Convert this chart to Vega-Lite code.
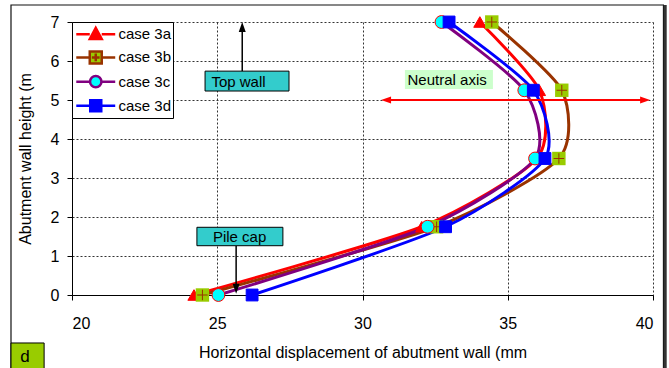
{
  "$schema": "https://vega.github.io/schema/vega-lite/v6.json",
  "width": 581,
  "height": 273,
  "autosize": {"type": "none"},
  "padding": {"left": 72, "top": 22, "right": 16, "bottom": 73},
  "background": "white",
  "config": {
    "font": "Liberation Sans",
    "view": {"stroke": null},
    "axis": {
      "labelFont": "Liberation Sans",
      "titleFont": "Liberation Sans",
      "labelColor": "black",
      "titleColor": "black",
      "labelFontSize": 16,
      "titleFontSize": 16,
      "titleFontWeight": "normal",
      "domainColor": "black",
      "domainWidth": 1,
      "tickColor": "black",
      "tickSize": 5,
      "gridColor": "#333333",
      "gridDash": [2, 2],
      "gridOpacity": 1,
      "gridWidth": 1,
      "labelOverlap": false
    },
    "legend": {
      "labelFont": "Liberation Sans",
      "labelFontSize": 15,
      "labelColor": "black"
    }
  },
  "datasets": {
    "disp": [
      {"series": "case 3a", "x": 24.2, "y": 0},
      {"series": "case 3a", "x": 32.04, "y": 1.75},
      {"series": "case 3a", "x": 36.0, "y": 3.5},
      {"series": "case 3a", "x": 36.09, "y": 5.25},
      {"series": "case 3a", "x": 34.04, "y": 7},
      {"series": "case 3b", "x": 24.49, "y": 0},
      {"series": "case 3b", "x": 32.55, "y": 1.75},
      {"series": "case 3b", "x": 36.76, "y": 3.5},
      {"series": "case 3b", "x": 36.86, "y": 5.25},
      {"series": "case 3b", "x": 34.45, "y": 7},
      {"series": "case 3c", "x": 25.04, "y": 0},
      {"series": "case 3c", "x": 32.24, "y": 1.75},
      {"series": "case 3c", "x": 35.94, "y": 3.5},
      {"series": "case 3c", "x": 35.57, "y": 5.25},
      {"series": "case 3c", "x": 32.72, "y": 7},
      {"series": "case 3d", "x": 26.2, "y": 0},
      {"series": "case 3d", "x": 32.86, "y": 1.75},
      {"series": "case 3d", "x": 36.28, "y": 3.5},
      {"series": "case 3d", "x": 35.88, "y": 5.25},
      {"series": "case 3d", "x": 32.98, "y": 7}
    ]
  },
  "encoding": {
    "x": {
      "field": "x",
      "type": "quantitative",
      "scale": {"domain": [20, 40], "nice": false, "zero": false},
      "axis": {
        "title": "Horizontal displacement of abutment wall (mm",
        "values": [20, 25, 30, 35, 40],
        "grid": true,
        "labelPadding": 15,
        "titlePadding": 13
      }
    },
    "y": {
      "field": "y",
      "type": "quantitative",
      "scale": {"domain": [0, 7], "nice": false, "zero": false},
      "axis": {
        "title": "Abutment wall height (m",
        "values": [0, 1, 2, 3, 4, 5, 6, 7],
        "grid": true,
        "labelPadding": 8,
        "titlePadding": 17
      }
    }
  },
  "layer": [
    {
      "data": {"values": [{"x": 17.9, "x2": 40.36, "y": 7.436, "y2": -2.2}]},
      "mark": {"type": "rect", "fill": "white", "fillOpacity": 0, "stroke": "#111111", "strokeWidth": 1.2},
      "encoding": {"x2": {"field": "x2"}, "y2": {"field": "y2"}}
    },
    {
      "data": {"values": [{"x": 40.42, "y": 7.436, "y2": -2.2}]},
      "mark": {"type": "rule", "stroke": "#333333", "strokeWidth": 3},
      "encoding": {"y2": {"field": "y2"}}
    },
    {
      "data": {"name": "disp"},
      "mark": {"type": "line", "interpolate": "cardinal", "tension": 0.3, "strokeWidth": 3},
      "encoding": {
        "order": {"field": "y", "type": "quantitative"},
        "color": {
          "field": "series",
          "type": "nominal",
          "scale": {
            "domain": ["case 3a", "case 3b", "case 3c", "case 3d"],
            "range": ["#FF0000", "#993300", "#800080", "#0000FF"]
          },
          "legend": {
            "title": null,
            "orient": "top-left",
            "offset": 0,
            "padding": 1.25,
            "rowPadding": 2.2,
            "strokeColor": "black",
            "fillColor": "white",
            "cornerRadius": 0,
            "labelFont": "Liberation Sans",
            "labelFontSize": 15,
            "labelColor": "black",
            "labelOffset": 23.25,
            "symbolSize": 361,
            "symbolStrokeWidth": 2.5,
            "encode": {
              "labels": {
                "update": {
                  "fontSize": {"value": 15},
                  "fill": {"value": "black"}
                }
              },
              "symbols": {
                "update": {
                  "shape": {"signal": "datum.value === 'case 3a' ? 'M-0.84,0H0.58M1.84,0H3.26M0.58,0.5L1.21,-0.68L1.84,0.5Z' : datum.value === 'case 3b' ? 'M-0.84,0H0.58M1.84,0H3.26M0.58,-0.63H1.84V0.63H0.58ZM0.8,0H1.62M1.21,-0.41V0.41' : datum.value === 'case 3c' ? 'M-0.84,0H0.61M1.81,0H3.26M1.81,0A0.6,0.6 0 1 1 0.61,0A0.6,0.6 0 1 1 1.81,0Z' : 'M-0.84,0H0.63M1.79,0H3.26M0.63,-0.58H1.79V0.58H0.63Z'"},
                  "fill": {"signal": "datum.value === 'case 3a' ? '#FF0000' : datum.value === 'case 3b' ? '#99CC00' : datum.value === 'case 3c' ? '#00FFFF' : '#0000FF'"},
                  "fillOpacity": {"value": 1},
                  "strokeWidth": {"value": 2.5},
                  "opacity": {"value": 1}
                }
              }
            }
          }
        }
      }
    },
    {
      "data": {"name": "disp"},
      "transform": [{"filter": "datum.series === 'case 3a'"}],
      "mark": {"type": "point", "shape": "triangle-up", "filled": true, "fill": "#FF0000", "stroke": "#FF0000", "strokeWidth": 1, "size": 150, "opacity": 1}
    },
    {
      "data": {"name": "disp"},
      "transform": [{"filter": "datum.series === 'case 3b'"}],
      "mark": {"type": "point", "shape": "square", "filled": true, "fill": "#99CC00", "strokeWidth": 0, "size": 180, "opacity": 1}
    },
    {
      "data": {"name": "disp"},
      "transform": [{"filter": "datum.series === 'case 3b'"}],
      "mark": {"type": "point", "shape": "M-1,0H1M0,-1V1", "filled": false, "stroke": "#993300", "strokeWidth": 1, "size": 110, "opacity": 1}
    },
    {
      "data": {"name": "disp"},
      "transform": [{"filter": "datum.series === 'case 3c'"}],
      "mark": {"type": "point", "shape": "circle", "filled": true, "fill": "#00FFFF", "stroke": "#FF0000", "strokeWidth": 1, "size": 165, "opacity": 1}
    },
    {
      "data": {"name": "disp"},
      "transform": [{"filter": "datum.series === 'case 3d'"}],
      "mark": {"type": "point", "shape": "square", "filled": true, "fill": "#0000FF", "stroke": "#0000FF", "strokeWidth": 1, "size": 140, "opacity": 1}
    },
    {
      "data": {"values": [{"x": 31.46, "x2": 34.49, "y": 5.77, "y2": 5.28}]},
      "mark": {"type": "rect", "fill": "#CCFFCC"},
      "encoding": {"x2": {"field": "x2"}, "y2": {"field": "y2"}}
    },
    {
      "data": {"values": [{"x": 31.55, "y": 5.525, "label": "Neutral axis"}]},
      "mark": {"type": "text", "align": "left", "baseline": "middle", "fontSize": 15, "font": "Liberation Sans", "color": "black"},
      "encoding": {"text": {"field": "label"}}
    },
    {
      "data": {"values": [{"x": 30.9, "x2": 39.65, "y": 5.0}]},
      "mark": {"type": "rule", "stroke": "#FF0000", "strokeWidth": 2},
      "encoding": {"x2": {"field": "x2"}}
    },
    {
      "data": {"values": [{"x": 30.64, "y": 5.0}]},
      "mark": {"type": "point", "shape": "M0,0L2,-0.7L2,0.7Z", "filled": true, "fill": "#FF0000", "strokeWidth": 0, "size": 100, "opacity": 1}
    },
    {
      "data": {"values": [{"x": 39.9, "y": 5.0}]},
      "mark": {"type": "point", "shape": "M0,0L-2,-0.7L-2,0.7Z", "filled": true, "fill": "#FF0000", "strokeWidth": 0, "size": 100, "opacity": 1}
    },
    {
      "data": {"values": [{"x": 25.86, "y": 5.74, "y2": 6.78}]},
      "mark": {"type": "rule", "stroke": "black", "strokeWidth": 1.5},
      "encoding": {"y2": {"field": "y2"}}
    },
    {
      "data": {"values": [{"x": 25.86, "y": 7.0}]},
      "mark": {"type": "point", "shape": "M0,0L-0.7,2L0.7,2Z", "filled": true, "fill": "black", "strokeWidth": 0, "size": 100, "opacity": 1}
    },
    {
      "data": {"values": [{"x": 24.58, "x2": 27.47, "y": 5.74, "y2": 5.23}]},
      "mark": {"type": "rect", "fill": "#33CCCC", "stroke": "black", "strokeWidth": 1},
      "encoding": {"x2": {"field": "x2"}, "y2": {"field": "y2"}}
    },
    {
      "data": {"values": [{"x": 24.8, "y": 5.47, "label": "Top wall"}]},
      "mark": {"type": "text", "align": "left", "baseline": "middle", "fontSize": 15, "font": "Liberation Sans", "color": "black"},
      "encoding": {"text": {"field": "label"}}
    },
    {
      "data": {"values": [{"x": 25.65, "y": 1.264, "y2": 0.25}]},
      "mark": {"type": "rule", "stroke": "black", "strokeWidth": 1.5},
      "encoding": {"y2": {"field": "y2"}}
    },
    {
      "data": {"values": [{"x": 25.65, "y": 0.03}]},
      "mark": {"type": "point", "shape": "M0,0L-0.7,-2L0.7,-2Z", "filled": true, "fill": "black", "strokeWidth": 0, "size": 100, "opacity": 1}
    },
    {
      "data": {"values": [{"x": 24.3, "x2": 27.26, "y": 1.736, "y2": 1.264}]},
      "mark": {"type": "rect", "fill": "#33CCCC", "stroke": "black", "strokeWidth": 1},
      "encoding": {"x2": {"field": "x2"}, "y2": {"field": "y2"}}
    },
    {
      "data": {"values": [{"x": 24.85, "y": 1.49, "label": "Pile cap"}]},
      "mark": {"type": "text", "align": "left", "baseline": "middle", "fontSize": 15, "font": "Liberation Sans", "color": "black"},
      "encoding": {"text": {"field": "label"}}
    },
    {
      "data": {"values": [{"x": 17.9, "x2": 19.04, "y": -1.23, "y2": -2.2}]},
      "mark": {"type": "rect", "fill": "#99CC00", "stroke": "black", "strokeWidth": 1},
      "encoding": {"x2": {"field": "x2"}, "y2": {"field": "y2"}}
    },
    {
      "data": {"values": [{"x": 18.38, "y": -1.6, "label": "d"}]},
      "mark": {"type": "text", "align": "center", "baseline": "middle", "fontSize": 17, "font": "Liberation Sans", "color": "black"},
      "encoding": {"text": {"field": "label"}}
    }
  ]
}
